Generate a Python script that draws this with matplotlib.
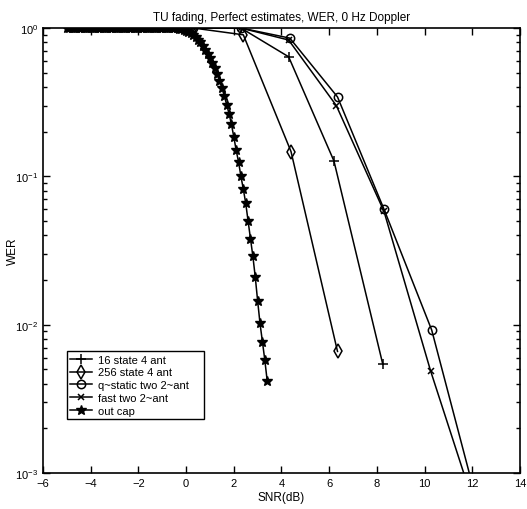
import matplotlib
matplotlib.use("Agg")
from matplotlib import pyplot as plt

plt.rcParams['font.family'] = ['Liberation Sans', 'DejaVu Sans']

# --- data ---
snr_16 = [0.3, 2.3, 4.3, 6.2, 8.25]
wer_16 = [1.0, 1.0, 0.64, 0.127, 0.0054]

snr_256 = [0.3, 2.4, 4.4, 6.35]
wer_256 = [1.0, 0.90, 0.147, 0.0066]

snr_qstatic = [0.3, 2.3, 4.35, 6.35, 8.3, 10.3, 12.3]
wer_qstatic = [1.0, 1.0, 0.855, 0.343, 0.06, 0.0092, 0.00055]

snr_fast = [0.3, 2.3, 4.3, 6.3, 8.3, 10.25, 12.25]
wer_fast = [1.0, 1.0, 0.83, 0.30, 0.058, 0.0049, 0.0005]

snr_cap = [-5.0, -4.9, -4.8, -4.7, -4.6, -4.5, -4.4, -4.3, -4.2, -4.1,
           -4.0, -3.9, -3.8, -3.7, -3.6, -3.5, -3.4, -3.3, -3.2, -3.1,
           -3.0, -2.9, -2.8, -2.7, -2.6, -2.5, -2.4, -2.3, -2.2, -2.1,
           -2.0, -1.9, -1.8, -1.7, -1.6, -1.5, -1.4, -1.3, -1.2, -1.1,
           -1.0, -0.9, -0.8, -0.7, -0.6, -0.5, -0.4, -0.3, -0.2, -0.1,
           0.0, 0.1, 0.2, 0.3, 0.4, 0.5, 0.6, 0.7, 0.8, 0.9,
           1.0, 1.1, 1.2, 1.3, 1.4, 1.5, 1.6, 1.7, 1.8, 1.9,
           2.0, 2.1, 2.2, 2.3, 2.4, 2.5, 2.6, 2.7, 2.8, 2.9,
           3.0, 3.1, 3.2, 3.3, 3.4]
wer_cap = [1.0, 1.0, 1.0, 1.0, 1.0, 1.0, 1.0, 1.0, 1.0, 1.0,
           1.0, 1.0, 1.0, 1.0, 1.0, 1.0, 1.0, 1.0, 1.0, 1.0,
           1.0, 1.0, 1.0, 1.0, 1.0, 1.0, 1.0, 1.0, 1.0, 1.0,
           1.0, 1.0, 1.0, 1.0, 1.0, 1.0, 1.0, 1.0, 1.0, 1.0,
           1.0, 1.0, 1.0, 1.0, 1.0, 0.998, 0.995, 0.99, 0.98, 0.97,
           0.955, 0.94, 0.92, 0.895, 0.865, 0.835, 0.80, 0.76, 0.715, 0.67,
           0.625, 0.58, 0.535, 0.49, 0.44, 0.395, 0.35, 0.305, 0.265, 0.225,
           0.185, 0.15, 0.125, 0.10, 0.082, 0.066, 0.05, 0.038, 0.029, 0.021,
           0.0145, 0.0102, 0.0077, 0.0058, 0.0042]

labels = ['16 state 4 ant', '256 state 4 ant', 'q~static two 2~ant',
          'fast two 2~ant', 'out cap']

# --- figure ---
fig = plt.figure(figsize=(5.27, 5.10), dpi=100)
ax = fig.add_axes([0.0816, 0.0706, 0.905, 0.8725])

lw = 1.1
ax.plot(snr_16, wer_16, color='black', lw=lw, marker='+', ms=7, mew=1.1, label=labels[0])
ax.plot(snr_256, wer_256, color='black', lw=lw, marker='d', ms=7, mfc='none', mew=1.1, label=labels[1])
ax.plot(snr_qstatic, wer_qstatic, color='black', lw=lw, marker='o', ms=6, mfc='none', mew=1.1, label=labels[2])
ax.plot(snr_fast, wer_fast, color='black', lw=lw, marker='x', ms=5, mew=1.1, label=labels[3])
ax.plot(snr_cap, wer_cap, color='black', lw=lw, marker='*', ms=7, label=labels[4])

ax.set_yscale('log')
ax.set_xlim(-6, 14)
ax.set_ylim(1e-3, 1)
ax.set_xticks(range(-6, 15, 2))

ax.tick_params(which='both', direction='in', top=True, right=True, labelsize=8, width=1)
ax.tick_params(which='major', length=5)
ax.tick_params(which='minor', length=3)
for s in ax.spines.values():
    s.set_linewidth(1.2)

ax.set_title('TU fading, Perfect estimates, WER, 0 Hz Doppler', fontsize=8.5, pad=6)
ax.set_xlabel('SNR(dB)', fontsize=8.5, labelpad=2)
ax.set_ylabel('WER', fontsize=8.5)
ax.yaxis.set_label_coords(-0.05, 0.5)

leg = ax.legend(loc='lower left', bbox_to_anchor=(0.05, 0.121, 0.2875, 0.155),
                mode='expand', borderaxespad=0,
                fontsize=8, fancybox=False, framealpha=1, edgecolor='black',
                handlelength=2, labelspacing=0.25, borderpad=0.3, handletextpad=0.5)
leg.get_frame().set_linewidth(1)

fig.savefig('out.png', dpi=100)
